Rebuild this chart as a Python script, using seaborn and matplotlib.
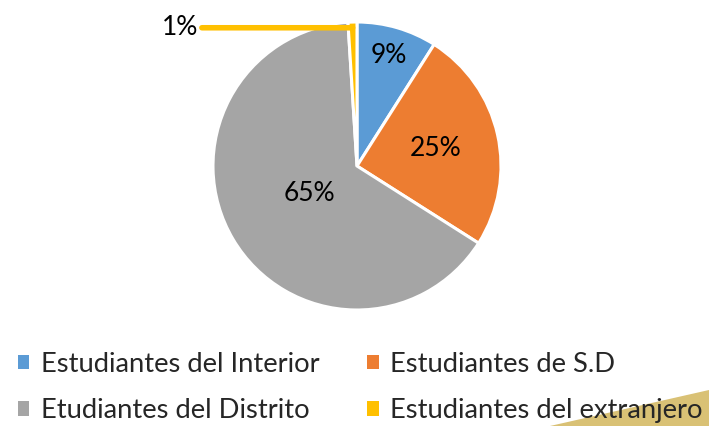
import numpy as np
import matplotlib
matplotlib.use("Agg")
import matplotlib.pyplot as plt
from matplotlib.patches import Rectangle, Polygon
import seaborn as sns

# Student origin shares (percent)
categories = ["Estudiantes del Interior", "Estudiantes de S.D",
              "Etudiantes del Distrito", "Estudiantes del extranjero"]
shares = [9, 25, 65, 1]
colors = ["#5B9BD5", "#ED7D31", "#A5A5A5", "#FFC000"]

sns.set_theme(style="white")
plt.rcParams["font.family"] = ["Lato", "DejaVu Sans"]

W, H = 709, 426
fig = plt.figure(figsize=(W / 100, H / 100), dpi=100)
fig.patch.set_facecolor("white")

# pie axes: centre (357,166) px, radius 144 px
cx, cy, r = 357, 166, 144
ax = fig.add_axes([(cx - r) / W, (H - cy - r) / H, 2 * r / W, 2 * r / H])
palette = sns.color_palette(colors)
wedges, _ = ax.pie(shares, colors=palette, startangle=90, counterclock=False,
                   radius=1.0, wedgeprops=dict(edgecolor="white", linewidth=2.2))
ax.set_xlim(-1, 1)
ax.set_ylim(-1, 1)
ax.set_aspect("equal")
ax.axis("off")

# in-slice percentage labels
label_r = [0.80, 0.56, 0.38]
for w, v, lr in zip(wedges[:3], shares[:3], label_r):
    mid = np.deg2rad((w.theta1 + w.theta2) / 2)
    ax.text(lr * np.cos(mid), lr * np.sin(mid), f"{v}%", ha="center",
            va="center", fontsize=19, color="black")

# small slice: label outside with a leader line
w = wedges[3]
mid = np.deg2rad((w.theta1 + w.theta2) / 2)
py = 0.96
px = py * np.cos(mid) / np.sin(mid)
ax.annotate(f"{shares[3]}%", xy=(px, py), xytext=(-1.10, py),
            ha="right", va="center", fontsize=19, color="black",
            annotation_clip=False,
            arrowprops=dict(arrowstyle="-", color=colors[3], lw=4,
                            shrinkA=0, shrinkB=0, relpos=(1.0, 0.5)))

# decorative corner shape
fig.patches.append(Polygon([(550 / W, 0), (1, 36 / H), (1, 0)], closed=True,
                           transform=fig.transFigure, facecolor="#D9C175",
                           edgecolor="none", zorder=0))

handles = [Rectangle((0, 0), 1, 1, facecolor=c, edgecolor="none") for c in colors]
order = [0, 2, 1, 3]
leg = fig.legend([handles[i] for i in order], [categories[i] for i in order],
                 ncol=2, loc="upper left", bbox_to_anchor=(18 / W, 1 - 352 / H),
                 frameon=False, fontsize=19.7, handlelength=0.42, handleheight=0.42,
                 handletextpad=0.42, columnspacing=1.75, labelspacing=0.78,
                 borderaxespad=0, borderpad=0)
leg.set_zorder(5)

fig.savefig("out.png", dpi=100, facecolor="white")
